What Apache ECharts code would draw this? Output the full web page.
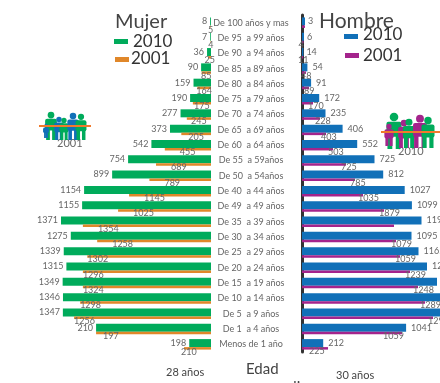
<!DOCTYPE html>
<html>
<head>
<meta charset="utf-8">
<style>html,body{margin:0;padding:0;background:#fff;overflow:hidden}#box{width:440px;height:383px}</style>
<script src="https://cdn.jsdelivr.net/npm/echarts@6/dist/echarts.min.js"></script>
</head>
<body>
<div id="box"></div>
<script>
var ageGroups = ['De 100 años y mas', 'De 95  a 99 años', 'De 90  a 94 años', 'De 85  a 89 años', 'De 80  a 84 años',
  'De 75  a 79 años', 'De 70  a 74 años', 'De 65  a 69 años', 'De 60  a 64 años', 'De 55  a 59años', 'De 50  a 54años',
  'De 40  a 44 años', 'De 49  a 49 años', 'De 35  a 39 años', 'De 30  a 34 años', 'De 25  a 29 años', 'De 20  a 24 años',
  'De 15  a 19 años', 'De 10  a 14 años', 'De 5  a 9 años', 'De 1  a 4 años', 'Menos de 1 año'];

// bar lengths as drawn, the printed labels do not always agree with them
var mujer2010 = [8, 7, 36, 90, 159, 190, 277, 373, 542, 754, 899, 1154, 1172, 1371, 1275, 1339, 1315, 1349, 1346, 1347, 1045, 198];
var mujer2001 = [5, 4, 25, 85, 125, 165, 220, 270, 420, 500, 560, 745, 845, 1165, 1035, 1125, 1165, 1165, 1190, 1245, 1045, 245];
var hombre2010 = [30, 20, 14, 54, 91, 172, 235, 406, 552, 725, 812, 1027, 1099, 1195, 1095, 1165, 1250, 1350, 1440, 1450, 1041, 212];
var hombre2001 = [30, 15, 11, 40, 70, 110, 180, 240, 310, 440, 530, 610, 820, 920, 940, 980, 1080, 1160, 1230, 1310, 1000, 260];

var mujer2010Labels = ['8', '7', '36', '90', '159', '190', '277', '373', '542', '754', '899', '1154', '1155', '1371', '1275', '1339', '1315', '1349', '1346', '1347', '210', '198'];
var mujer2001Labels = ['5', '4', '25', '85', '164', '175', '245', '205', '455', '689', '789', '1145', '1025', '1354', '1258', '1302', '1296', '1324', '1298', '1256', '197', '210'];
var hombre2010Labels = ['3', '6', '14', '54', '91', '172', '235', '406', '552', '725', '812', '1027', '1099', '1195', '1095', '1165', '1270', '1360', '1440', '1450', '1041', '212'];
var hombre2001Labels = ['', '4', '11', '48', '89', '170', '228', '403', '503', '725', '785', '1035', '1879', '', '1079', '1059', '1239', '1248', '1289', '1297', '1059', '225'];

var GREEN = '#00ab5b', ORANGE = '#e0872a', BLUE = '#1170b8', PURPLE = '#a4248c', GREY = '#666';
var FONT = 'Lato';

function person(x, top, h, color) {
  var w = h * 0.42;
  return [
    { type: 'circle', shape: { cx: x, cy: top + h * 0.11, r: h * 0.12 }, style: { fill: color } },
    { type: 'rect', shape: { x: x - w / 2, y: top + h * 0.24, width: w, height: h * 0.42, r: 2 }, style: { fill: color } },
    { type: 'rect', shape: { x: x - w / 2 + 1, y: top + h * 0.6, width: w * 0.32, height: h * 0.4 }, style: { fill: color } },
    { type: 'rect', shape: { x: x + w / 2 - 1 - w * 0.32, y: top + h * 0.6, width: w * 0.32, height: h * 0.4 }, style: { fill: color } }
  ];
}

function txt(x, y, text, size, color) {
  return { type: 'text', x: x, y: y, style: { text: text, font: size + 'px ' + FONT, fill: color || GREY, textVerticalAlign: 'middle' } };
}

function swatch(x, y, color) {
  return { type: 'rect', shape: { x: x, y: y, width: 14, height: 5 }, style: { fill: color } };
}

var graphics = [
  txt(115, 22, 'Mujer', 20, '#444'),
  txt(133, 42, '2010', 17, '#333'),
  txt(131, 59, '2001', 17, '#333'),
  swatch(114, 39, GREEN),
  swatch(115, 57, ORANGE),
  txt(319, 21, 'Hombre', 21, '#444'),
  txt(363, 35, '2010', 17, '#333'),
  txt(363, 56, '2001', 17, '#333'),
  swatch(344, 34, BLUE),
  swatch(345, 53, PURPLE),
  txt(57, 143, '2001', 11),
  txt(398, 151, '2010', 11),
  txt(166, 372, '28 años', 11, '#444'),
  txt(246, 369, 'Edad', 15, '#444'),
  txt(246, 387.5, 'promedio', 15, '#444'),
  txt(336, 375, '30 años', 11, '#444')
];
graphics = graphics
  .concat(person(51, 112, 28, GREEN), person(46, 124, 14, BLUE), person(59, 117, 23, BLUE), person(64, 118, 22, GREEN),
    person(73, 113, 27, BLUE), person(81, 114, 26, GREEN))
  .concat(person(394, 113, 36, GREEN), person(389, 124, 22, PURPLE), person(404, 120, 28, PURPLE), person(409, 119, 29, GREEN),
    person(420, 115, 33, PURPLE), person(428, 117, 31, GREEN));
graphics.push({ type: 'rect', shape: { x: 39, y: 125, width: 52, height: 2 }, style: { fill: '#f07a2c' } });
graphics.push({ type: 'rect', shape: { x: 381, y: 131, width: 59, height: 2 }, style: { fill: '#f07a2c' } });

function barSeries(name, values, labels, color, width, xi, label) {
  return {
    name: name, type: 'bar', xAxisIndex: xi, yAxisIndex: xi, barWidth: width, barGap: 0, silent: true,
    itemStyle: { color: color },
    data: values.map(function (v, i) {
      return { value: v, label: Object.assign({ show: labels[i] !== '', formatter: labels[i], fontFamily: FONT, fontSize: 9, color: GREY }, label(i)) };
    }),
    animation: false
  };
}

var chart = echarts.init(document.getElementById('box'), null, { renderer: 'canvas' });
chart.setOption({
  animation: false,
  grid: [
    { left: 61, width: 150, top: 15, height: 337, outerBoundsMode: 'none' },
    { left: 302, width: 200, top: 15, height: 337, outerBoundsMode: 'none' }
  ],
  xAxis: [
    { gridIndex: 0, type: 'value', inverse: true, min: 0, max: 1364, show: false },
    { gridIndex: 1, type: 'value', min: 0, max: 2000, show: false }
  ],
  yAxis: [
    { gridIndex: 0, type: 'category', inverse: true, data: ageGroups, show: false },
    {
      gridIndex: 1, type: 'category', inverse: true, data: ageGroups,
      axisLine: { show: true, lineStyle: { color: '#333', width: 3 } }, axisTick: { show: false },
      axisLabel: { show: true, interval: 0, margin: 51, align: 'center', fontFamily: FONT, fontSize: 9, color: GREY }
    }
  ],
  series: [
    barSeries('2010', mujer2010, mujer2010Labels, GREEN, 8, 0, function () {
      return { position: 'left', distance: 3 };
    }),
    barSeries('2001', mujer2001, mujer2001Labels, ORANGE, 2.5, 0, function (i) {
      if (i < 8) return { position: 'inside', offset: [0, 3] };
      if (i === 21) return { position: 'insideLeft', offset: [-8, 4] };
      if (i === 20) return { position: 'insideLeft', offset: [2, 3] };
      return { position: 'insideLeft', offset: [i >= 15 ? -5 : 10, 3] };
    }),
    barSeries('2010', hombre2010, hombre2010Labels, BLUE, 8, 1, function (i) {
      return { position: 'right', distance: i < 3 ? 3 : 5 };
    }),
    barSeries('2001', hombre2001, hombre2001Labels, PURPLE, 2.5, 1, function (i) {
      return { position: 'right', distance: 5, offset: [i >= 20 ? -24 : -10, 3] };
    })
  ],
  graphic: graphics
});
</script>
</body>
</html>
